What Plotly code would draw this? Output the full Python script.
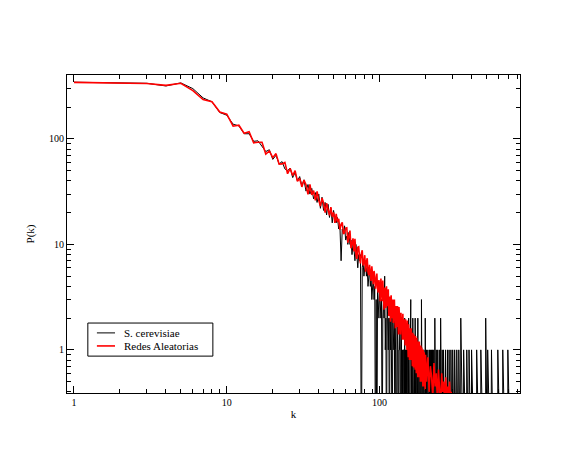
import numpy as np
import plotly.graph_objects as go

# Degree distribution P(k) of the S. cerevisiae network (counts per degree k)
cerev_counts_1_100 = [
    345, 342, 337, 318, 340, 300, 245, 225, 178, 168,
    138, 133, 112, 112, 95, 96, 85, 76, 79, 64,
    70, 58, 61, 52, 50, 53, 43, 48, 40, 44,
    36, 41, 32, 37, 30, 34, 27, 31, 25, 30,
    22, 28, 21, 25, 19, 24, 18, 22, 16, 21,
    17, 16, 18, 14, 15, 7, 14, 13, 15, 11,
    12, 10, 13, 10, 11, 8, 10, 9, 7, 10,
    8, 6, 8, 7, 8, 0, 6, 7, 5, 6,
    7, 5, 6, 4, 5, 6, 4, 5, 3, 4,
    5, 3, 4, 0, 3, 0, 4, 3, 2, 4,
]
cerev_counts_101_150 = [
    3, 2, 3, 0, 2, 3, 2, 5, 1, 2,
    0, 3, 2, 1, 2, 0, 2, 1, 3, 1,
    0, 2, 1, 1, 2, 0, 1, 2, 0, 1,
    2, 1, 0, 1, 1, 2, 0, 1, 2, 0,
    1, 0, 1, 1, 0, 2, 0, 1, 0, 1,
]
# sparse tail: degrees above 150 that occur at all, and how often
cerev_tail_k = [152, 153, 155, 156, 158, 159, 160, 162, 163, 165, 166, 167,
                169, 171, 172, 174, 175, 178, 181, 184, 186, 188, 192, 195,
                199, 203, 207, 212, 215, 219, 222, 226, 230, 235, 240, 246,
                251, 257, 262, 270, 278, 285, 293, 301, 310, 320, 330, 340,
                355, 372, 385, 400, 432, 460, 495, 510, 540, 594, 640, 691]
cerev_tail_counts = [1, 1, 2, 1, 1, 1, 3, 1, 1, 2, 1, 1,
                     1, 2, 1, 1, 1, 2, 1, 1, 1, 3, 1, 1,
                     2, 1, 1, 1, 1, 1, 1, 1, 2, 1, 1, 1,
                     2, 1, 1, 1, 1, 1, 1, 1, 1, 1, 1, 2,
                     1, 1, 1, 1, 1, 1, 2, 1, 1, 1, 1, 1]

# Average P(k) over the ensemble of random networks
random_k_1_200 = list(range(1, 201))
random_vals_1_200 = [
    344, 341, 336, 322, 337, 287, 236, 225, 180, 172,
    132, 135, 113, 117, 92, 93, 93, 72, 77, 66.5,
    72.6, 57.7, 58, 60, 46.8, 52.5, 45, 50, 39.6, 42.2,
    35.1, 40.7, 36.7, 29.9, 37.0, 29.5, 32.4, 26.1, 31.9, 26.2,
    23.1, 27.5, 24.7, 20.0, 24.6, 21.5, 18.9, 22.6, 18.3, 20.1,
    16.0, 19.5, 16.3, 17.5, 13.8, 15.5, 16.2, 12.6, 12.9, 14.3,
    14.4, 10.4, 12.2, 13.5, 9.2, 10.3, 11.4, 8.6, 11.3, 8.1,
    7.3, 9.4, 9.5, 7.4, 6.6, 8.2, 8.8, 6.3, 6.7, 7.9,
    5.5, 6.8, 7.4, 5.5, 5.1, 6.4, 5.6, 4.5, 6.2, 4.8,
    4.2, 5.6, 5.0, 3.8, 4.3, 5.3, 3.8, 3.5, 4.6, 4.1,
    2.9, 4.75, 3.9, 2.9, 4.55, 3.25, 2.4, 3.9, 3.5, 2.5,
    4.0, 2.6, 2.95, 3.75, 2.1, 3.2, 2.45, 1.85, 3.3, 2.7,
    2.0, 3.0, 1.8, 2.6, 3.0, 1.95, 1.6, 2.6, 2.15, 1.65,
    2.6, 1.85, 1.4, 2.55, 2.1, 1.5, 1.4, 2.25, 1.7, 2.05,
    1.25, 2.2, 1.5, 1.25, 1.95, 1.7, 1.1, 1.95, 1.4, 1.65,
    1.0, 1.9, 1.3, 0.85, 1.75, 1.05, 0.8, 1.6, 1.25, 0.8,
    1.6, 0.95, 1.3, 0.7, 1.45, 1.1, 0.68, 1.4, 0.9, 1.2,
    0.65, 1.35, 1.0, 0.6, 1.3, 0.85, 1.1, 0.55, 1.2, 0.9,
    0.55, 1.2, 0.75, 1.0, 0.5, 1.1, 0.8, 0.5, 1.05, 0.7,
    0.9, 0.45, 1.0, 0.65, 0.45, 0.95, 0.6, 0.85, 0.42, 0.9,
]
random_tail_k = list(range(203, 300, 4))
random_tail_vals = [0.5, 0.85, 0.4, 0.7, 0.55, 0.35, 0.75, 0.45, 0.6, 0.33,
                    0.65, 0.42, 0.3, 0.6, 0.4, 0.5, 0.3, 0.55, 0.35, 0.45,
                    0.28, 0.5, 0.33, 0.4, 0.3]

x_ticks = [1, 10, 100]
y_ticks = [1, 10, 100]
series_names = ["S. cerevisiae", "Redes Aleatorias"]
series_colors = ["black", "#ff0000"]
series_widths = [1, 1.6]

# assemble the full S. cerevisiae series over k = 1 .. 800 (zeros where no node has degree k)
k_max = 800
cerev_k = np.arange(1, k_max + 1)
cerev_p = np.zeros(k_max)
cerev_p[:100] = cerev_counts_1_100
cerev_p[100:150] = cerev_counts_101_150
for kk, c in zip(cerev_tail_k, cerev_tail_counts):
    cerev_p[kk - 1] = c
# zero counts cannot sit on a log axis; park them below the visible range so the
# line drops straight down through the bottom edge
cerev_plot = np.where(cerev_p > 0, cerev_p, 0.05)

rand_k = random_k_1_200 + random_tail_k
rand_p = random_vals_1_200 + random_tail_vals

serif = "Liberation Serif"

fig = go.Figure()
fig.add_trace(go.Scatter(
    x=cerev_k, y=cerev_plot, mode="lines", name=series_names[0],
    line=dict(color=series_colors[0], width=series_widths[0]),
))
fig.add_trace(go.Scatter(
    x=rand_k, y=rand_p, mode="lines", name=series_names[1],
    line=dict(color=series_colors[1], width=series_widths[1]),
))

minor_x = [m * d for d in (1, 10, 100) for m in range(2, 10)]
minor_y = [m * d for d in (0.1, 1, 10, 100) for m in range(2, 10)]

axis_common = dict(
    type="log",
    showgrid=False,
    zeroline=False,
    showline=True,
    linecolor="black",
    linewidth=1,
    mirror="allticks",
    ticks="inside",
    ticklen=7,
    tickwidth=1,
    tickcolor="black",
    tickfont=dict(family=serif, size=10, color="black"),
    tickmode="array",
)

fig.update_xaxes(
    **axis_common,
    range=[np.log10(0.9), np.log10(830)],
    tickvals=x_ticks,
    ticktext=[str(v) for v in x_ticks],
    minor=dict(tickvals=minor_x, ticks="inside", ticklen=4, tickcolor="black", tickwidth=1),
    title=dict(text="k", font=dict(family=serif, size=11, color="black"), standoff=3),
)
fig.update_yaxes(
    **axis_common,
    range=[np.log10(0.39), np.log10(404)],
    tickvals=y_ticks,
    ticktext=[str(v) for v in y_ticks],
    minor=dict(tickvals=minor_y, ticks="inside", ticklen=4, tickcolor="black", tickwidth=1),
    title=dict(text="P(k)", font=dict(family=serif, size=11, color="black"), standoff=12),
)

# compact boxed legend in the lower-left corner of the plot area
legend_box = dict(x0=0.046, x1=0.322, y0=0.116, y1=0.220)
row_y = [0.189, 0.148]
shapes = [dict(type="rect", xref="paper", yref="paper", **legend_box,
               line=dict(color="black", width=1), fillcolor="white", layer="above")]
annotations = []
for name, color, width, yy in zip(series_names, series_colors, series_widths, row_y):
    shapes.append(dict(type="line", xref="paper", yref="paper",
                       x0=0.066, x1=0.106, y0=yy, y1=yy,
                       line=dict(color=color, width=width), layer="above"))
    annotations.append(dict(xref="paper", yref="paper", x=0.121, y=yy,
                            xanchor="left", yanchor="middle", showarrow=False,
                            text=name, font=dict(family=serif, size=11, color="black")))

fig.update_layout(
    width=565,
    height=450,
    margin=dict(l=67, r=45, t=75, b=57),
    paper_bgcolor="white",
    plot_bgcolor="white",
    showlegend=False,
    shapes=shapes,
    annotations=annotations,
)

fig.write_html("out.html")
